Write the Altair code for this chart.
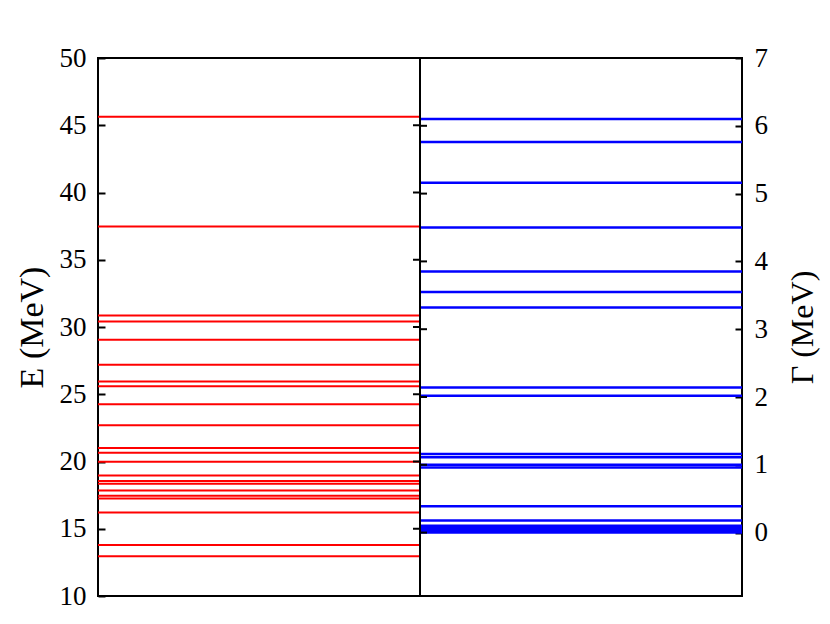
import altair as alt
import pandas as pd

# Energy levels (left panel, MeV)
E_levels = [45.63, 37.47, 30.85, 30.40, 29.05, 27.20, 25.95, 25.60, 24.25, 22.70,
            21.00, 20.65, 19.98, 18.95, 18.55, 18.35, 17.85, 17.45, 17.25, 16.20,
            13.80, 12.95]
# Widths (right panel, MeV)
G_levels = [6.10, 5.76, 5.16, 4.50, 3.85, 3.55, 3.32, 2.14, 2.02, 1.16,
            1.11, 1.00, 0.96, 0.39, 0.18, 0.10, 0.08, 0.06, 0.045, 0.03,
            0.015, 0.0]

E_ticks = [10, 15, 20, 25, 30, 35, 40, 45, 50]
G_ticks = [0, 1, 2, 3, 4, 5, 6, 7]
E_domain = [10, 50]
G_domain = [-0.935, 7]

W, H = 644, 538
TICK = 7
FONT = "Liberation Serif"

dfE = pd.DataFrame({"E": E_levels})
dfG = pd.DataFrame({"G": G_levels})
dfEt = pd.DataFrame({"E": E_ticks[1:-1]})
dfGt = pd.DataFrame({"G": G_ticks[:-1]})

xs = alt.Scale(domain=[0, 2])

def axis(orient, values, title, tsize, **kw):
    return alt.Axis(
        orient=orient, values=values, offset=-TICK, tickSize=TICK, tickWidth=2,
        tickColor="black", domain=False, grid=False, labelFont=FONT,
        labelFontSize=27, labelColor="black", labelPadding=12,
        title=title, titleFont=FONT, titleFontSize=tsize, titleFontWeight="normal",
        titleColor="black", titleAngle=270, **kw
    )

red = alt.Chart(dfE).mark_rule(color="#ff0000", strokeWidth=2).encode(
    x=alt.datum(0, scale=xs, axis=None),
    x2=alt.datum(1),
    y=alt.Y("E:Q", scale=alt.Scale(domain=E_domain, nice=False, zero=False),
            axis=axis("left", E_ticks, "E (MeV)", 34, titlePadding=10)),
)

blue = alt.Chart(dfG).mark_rule(color="#0000ff", strokeWidth=2.5).encode(
    x=alt.datum(1, scale=xs, axis=None),
    x2=alt.datum(2),
    y=alt.Y("G:Q", scale=alt.Scale(domain=G_domain, nice=False, zero=False),
            axis=axis("right", G_ticks, "Γ (MeV)", 32, titleBaseline="top",
                      titlePadding=20)),
)

mid = alt.Chart(pd.DataFrame({"m": [1]})).mark_rule(color="black", strokeWidth=2).encode(
    x=alt.X("m:Q", scale=xs, axis=None),
)

midE = alt.Chart(dfEt).mark_rule(color="black", strokeWidth=2).encode(
    x=alt.value(W / 2 - TICK), x2=alt.value(W / 2),
    y=alt.Y("E:Q", scale=alt.Scale(domain=E_domain, nice=False, zero=False), axis=None),
)
midG = alt.Chart(dfGt).mark_rule(color="black", strokeWidth=2).encode(
    x=alt.value(W / 2), x2=alt.value(W / 2 + TICK),
    y=alt.Y("G:Q", scale=alt.Scale(domain=G_domain, nice=False, zero=False), axis=None),
)

chart = alt.layer(red, blue, mid, midE, midG).resolve_scale(y="independent").properties(
    width=W, height=H,
    autosize=alt.AutoSizeParams(type="none"),
    padding={"left": 90, "top": 50, "right": 80, "bottom": 20},
    background="white",
).configure_view(stroke="black", strokeWidth=2)

chart.save("out.html", embed_options={"renderer": "svg", "actions": False})
